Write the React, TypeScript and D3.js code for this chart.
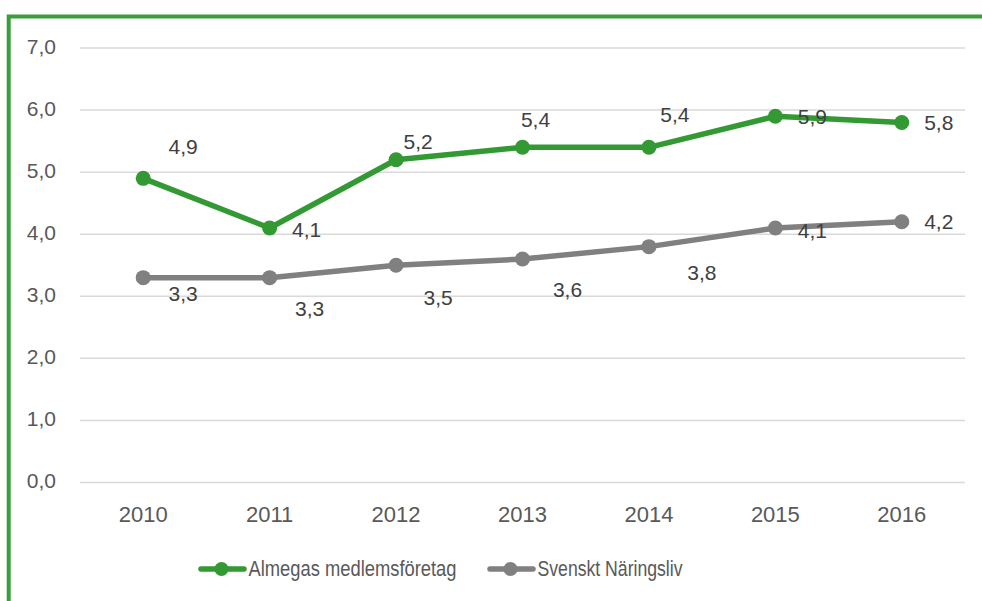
import React, { useEffect, useRef } from "react";
import * as d3 from "d3";

// chart values
const years = ["2010", "2011", "2012", "2013", "2014", "2015", "2016"];
const almegas = [4.9, 4.1, 5.2, 5.4, 5.4, 5.9, 5.8];
const naringsliv = [3.3, 3.3, 3.5, 3.6, 3.8, 4.1, 4.2];
const yTicks = [0, 1, 2, 3, 4, 5, 6, 7];
const seriesNames = ["Almegas medlemsföretag", "Svenskt Näringsliv"];

// where Excel put each data label, relative to its point (to the centre of the text)
const almegasLabelOffsets = [[40, -32], [37, 1], [22, -18], [13, -28], [26, -33], [37, 0], [37, 0]];
const naringslivLabelOffsets = [[40, 16], [40, 31], [42, 32], [45, 30], [53, 26], [37, 2], [37, 0]];

const GREEN = "#339933";
const GRAY = "#808080";
const TEXT = "#595959";
const FONT = "'Liberation Sans', Arial, sans-serif";

export default function App() {
  const ref = useRef<SVGSVGElement>(null);

  useEffect(() => {
    const svg = d3.select(ref.current);
    svg.selectAll("*").remove();

    const fullWidth = 982;
    const fullHeight = 601;
    const margin = { top: 48, right: 17, bottom: 118, left: 80 };

    svg.attr("width", fullWidth).attr("height", fullHeight);

    // green frame, only left and top edges are inside the picture
    svg.append("rect")
      .attr("x", 8.7)
      .attr("y", 16.5)
      .attr("width", 1200)
      .attr("height", 1200)
      .attr("fill", "none")
      .attr("stroke", "#3a9e3a")
      .attr("stroke-width", 4);

    const x = d3.scaleBand()
      .domain(years)
      .range([margin.left, fullWidth - margin.right]);

    const y = d3.scaleLinear()
      .domain([0, 7])
      .range([fullHeight - margin.bottom - 0.5, margin.top]);

    const cx = (d: string) => (x(d) as number) + x.bandwidth() / 2;

    // gridlines
    svg.append("g")
      .selectAll("line")
      .data(yTicks)
      .enter()
      .append("line")
      .attr("x1", margin.left)
      .attr("x2", fullWidth - margin.right)
      .attr("y1", d => y(d))
      .attr("y2", d => y(d))
      .attr("stroke", "#d9d9d9")
      .attr("stroke-width", 1.5);

    const fmt = (v: number) => v.toFixed(1).replace(".", ",");

    // y tick labels
    svg.append("g")
      .selectAll("text")
      .data(yTicks)
      .enter()
      .append("text")
      .attr("x", 56)
      .attr("y", d => y(d) + 5.5)
      .attr("text-anchor", "end")
      .attr("font-family", FONT)
      .attr("font-size", 21)
      .attr("fill", TEXT)
      .text(d => fmt(d));

    // x tick labels
    svg.append("g")
      .selectAll("text")
      .data(years)
      .enter()
      .append("text")
      .attr("x", d => cx(d))
      .attr("y", 522)
      .attr("text-anchor", "middle")
      .attr("font-family", FONT)
      .attr("font-size", 22)
      .attr("fill", TEXT)
      .text(d => d);

    const line = d3.line<number>()
      .x((d, i) => cx(years[i]))
      .y(d => y(d));

    const series = [
      { values: naringsliv, color: GRAY, offsets: naringslivLabelOffsets },
      { values: almegas, color: GREEN, offsets: almegasLabelOffsets },
    ];

    series.forEach(s => {
      const g = svg.append("g");
      g.append("path")
        .datum(s.values)
        .attr("d", line)
        .attr("fill", "none")
        .attr("stroke", s.color)
        .attr("stroke-width", 5.5)
        .attr("stroke-linejoin", "round");

      g.selectAll("circle")
        .data(s.values)
        .enter()
        .append("circle")
        .attr("cx", (d, i) => cx(years[i]))
        .attr("cy", d => y(d))
        .attr("r", 7.5)
        .attr("fill", s.color);
    });

    // data labels drawn on top of the lines
    series.forEach(s => {
      svg.append("g")
        .selectAll("text")
        .data(s.values)
        .enter()
        .append("text")
        .attr("x", (d, i) => cx(years[i]) + s.offsets[i][0])
        .attr("y", (d, i) => y(d) + s.offsets[i][1] + 7.5)
        .attr("text-anchor", "middle")
        .attr("font-family", FONT)
        .attr("font-size", 21)
        .attr("fill", "#404040")
        .text(d => fmt(d));
    });

    // legend
    const legendItems = [
      { name: seriesNames[0], color: GREEN, x0: 199, textWidth: 208 },
      { name: seriesNames[1], color: GRAY, x0: 488, textWidth: 145 },
    ];
    const ly = 569;
    legendItems.forEach(item => {
      const g = svg.append("g");
      g.append("line")
        .attr("x1", item.x0 + 2)
        .attr("x2", item.x0 + 45)
        .attr("y1", ly)
        .attr("y2", ly)
        .attr("stroke", item.color)
        .attr("stroke-width", 5.5)
        .attr("stroke-linecap", "round");
      g.append("circle")
        .attr("cx", item.x0 + 22.5)
        .attr("cy", ly)
        .attr("r", 7)
        .attr("fill", item.color);
      g.append("text")
        .attr("x", item.x0 + 49.5)
        .attr("y", 575.5)
        .attr("font-family", FONT)
        .attr("font-size", 22)
        .attr("textLength", item.textWidth)
        .attr("lengthAdjust", "spacingAndGlyphs")
        .attr("fill", TEXT)
        .text(item.name);
    });
  }, []);

  return (
    <svg
      ref={ref}
      style={{ position: "absolute", left: 0, top: 0, display: "block" }}
    />
  );
}
